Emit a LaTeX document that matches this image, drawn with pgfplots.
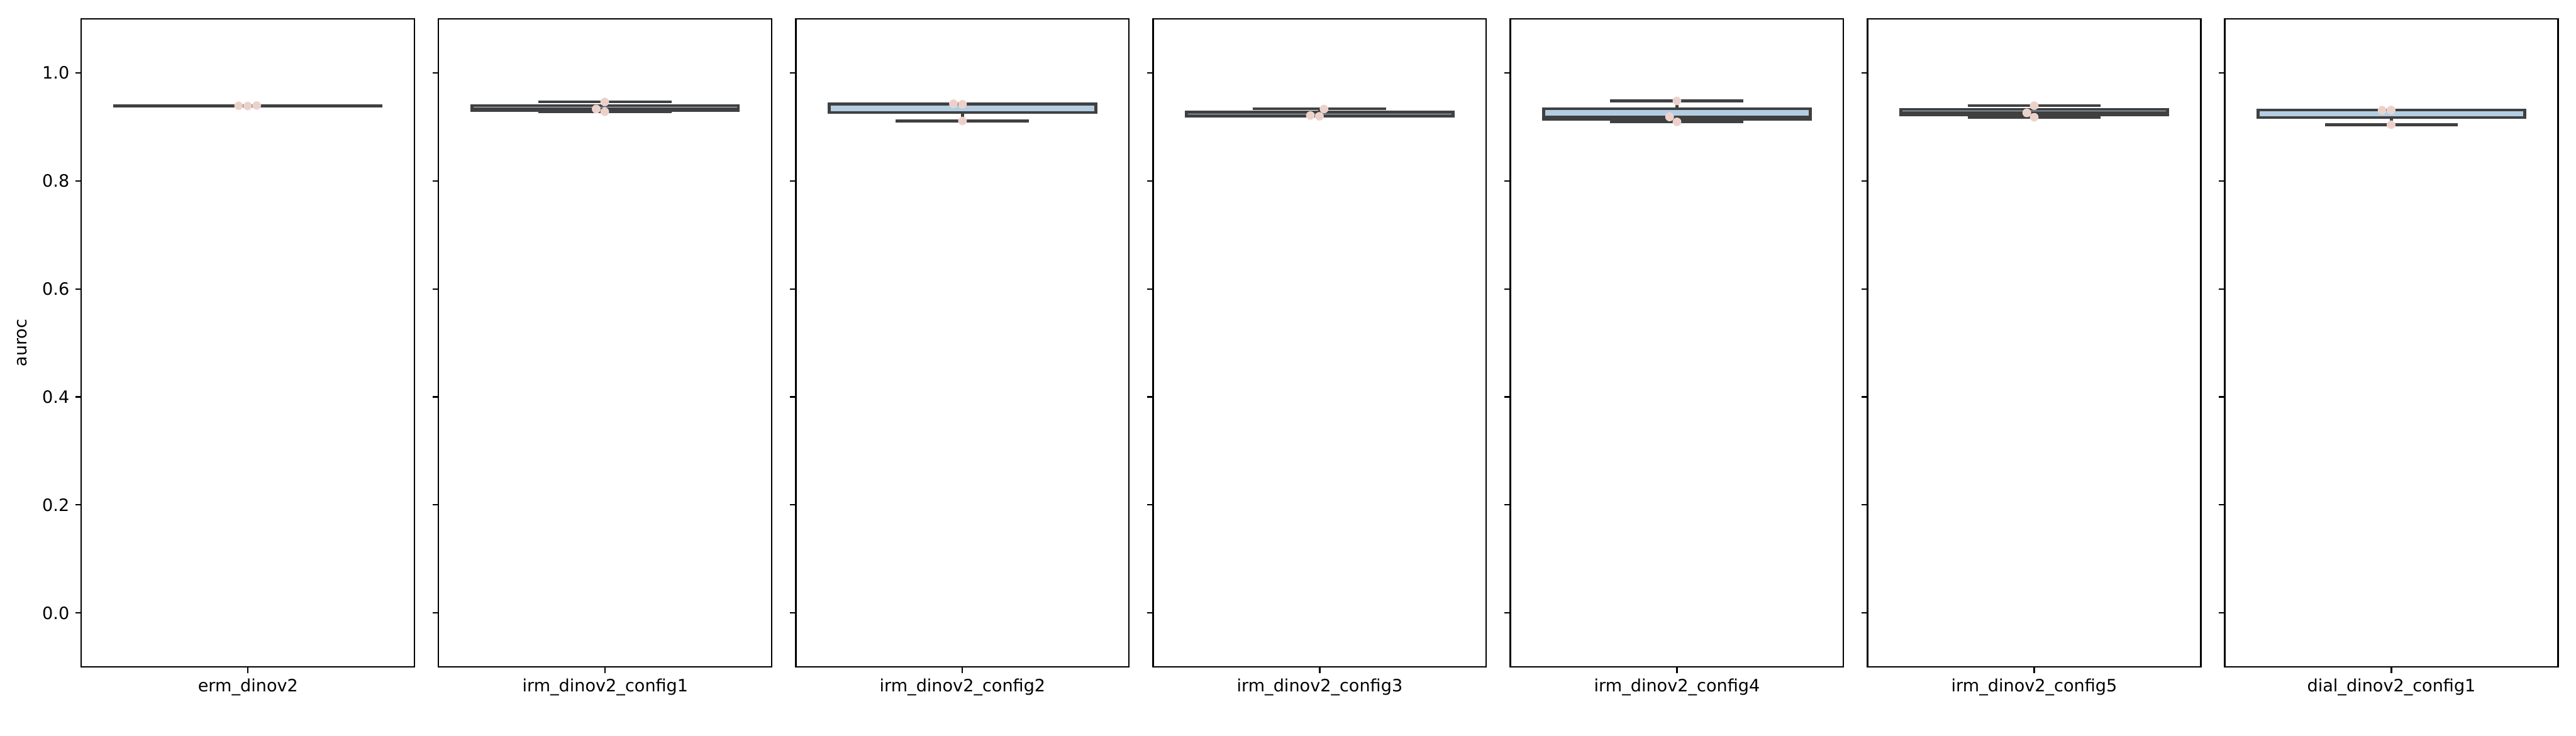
\documentclass[border=0pt]{standalone}
\usepackage{fontspec}
\setmainfont{DejaVu Sans}
\usepackage{pgfplots}
\pgfplotsset{compat=1.18}
\usepgfplotslibrary{statistics}
\definecolor{boxblue}{RGB}{179,205,227}
\definecolor{boxgray}{RGB}{64,64,64}
\definecolor{ptcol}{RGB}{236,208,202}
\pgfplotsset{
  panel/.style={
    anchor=south west, scale only axis,
    width=195.6pt, height=380.6pt,
    xmin=-0.5, xmax=0.5, ymin=-0.1, ymax=1.1,
    xtick={0}, xtick pos=bottom, ytick pos=left,
    ytick={0,0.2,0.4,0.6,0.8,1.0},
    tick align=outside,
    major tick length=3.5pt,
    every tick/.style={black, line width=0.8pt},
    axis line style={black, line width=0.8pt},
    tick label style={font=\fontsize{10}{12}\selectfont},
    label style={font=\fontsize{10}{12}\selectfont},
    /pgf/number format/assume math mode=true,
    /pgf/number format/fixed, /pgf/number format/fixed zerofill,
    /pgf/number format/precision=1,
    boxplot/draw direction=y,
    clip=false,
  },
  bx/.style={boxplot prepared={#1, draw position=0, box extend=0.8, whisker extend=0.4},
    draw=boxgray, fill=boxblue, line width=1.6pt, line join=miter, solid, mark=none},
  pts/.style={only marks, mark=*, mark size=2.4pt, mark options={fill=ptcol, draw=ptcol!70!white, line width=0.3pt}},
}
\begin{document}
\begin{tikzpicture}
\useasboundingbox (0,0) rectangle (1512pt,432pt);
% panel 1
\begin{axis}[panel, at={(47.76pt,40.3pt)}, xticklabels={erm\_dinov2}, ylabel={auroc}, ylabel style={at={(axis description cs:-0.146,0.5)}, anchor=south}]
\addplot+[bx={lower whisker=0.9387, lower quartile=0.93895, median=0.9392, upper quartile=0.93945, upper whisker=0.9397}] coordinates {};
\addplot[pts] coordinates {(-0.028,0.9392) (-0.001,0.9387) (0.026,0.9397)};
\end{axis}
% panel 2
\begin{axis}[panel, at={(257.44pt,40.3pt)}, xticklabels={irm\_dinov2\_config1}, yticklabels={}]
\addplot+[bx={lower whisker=0.9279, lower quartile=0.9305, median=0.9331, upper quartile=0.9397, upper whisker=0.9463}] coordinates {};
\addplot[pts] coordinates {(-0.0015,0.9463) (-0.027,0.9331) (-0.0015,0.9279)};
\end{axis}
% panel 3
\begin{axis}[panel, at={(467.12pt,40.3pt)}, xticklabels={irm\_dinov2\_config2}, yticklabels={}]
\addplot+[bx={lower whisker=0.9109, lower quartile=0.92655, median=0.9422, upper quartile=0.9426, upper whisker=0.9430}] coordinates {};
\addplot[pts] coordinates {(-0.027,0.9430) (0,0.9422) (0,0.9109)};
\end{axis}
% panel 4
\begin{axis}[panel, at={(676.80pt,40.3pt)}, xticklabels={irm\_dinov2\_config3}, yticklabels={}]
\addplot+[bx={lower whisker=0.9195, lower quartile=0.92025, median=0.9210, upper quartile=0.92715, upper whisker=0.9333}] coordinates {};
\addplot[pts] coordinates {(0.013,0.9333) (-0.028,0.9210) (-0.001,0.9195)};
\end{axis}
% panel 5
\begin{axis}[panel, at={(886.48pt,40.3pt)}, xticklabels={irm\_dinov2\_config4}, yticklabels={}]
\addplot+[bx={lower whisker=0.9092, lower quartile=0.91385, median=0.9185, upper quartile=0.9334, upper whisker=0.9483}] coordinates {};
\addplot[pts] coordinates {(0,0.9483) (-0.022,0.9185) (0,0.9092)};
\end{axis}
% panel 6
\begin{axis}[panel, at={(1096.16pt,40.3pt)}, xticklabels={irm\_dinov2\_config5}, yticklabels={}]
\addplot+[bx={lower whisker=0.9177, lower quartile=0.92185, median=0.9260, upper quartile=0.9327, upper whisker=0.9394}] coordinates {};
\addplot[pts] coordinates {(0,0.9394) (-0.022,0.9260) (0,0.9177)};
\end{axis}
% panel 7
\begin{axis}[panel, at={(1305.84pt,40.3pt)}, xticklabels={dial\_dinov2\_config1}, yticklabels={}]
\addplot+[bx={lower whisker=0.9039, lower quartile=0.9175, median=0.9311, upper quartile=0.9313, upper whisker=0.9315}] coordinates {};
\addplot[pts] coordinates {(-0.028,0.9311) (-0.001,0.9315) (-0.001,0.9039)};
\end{axis}
\end{tikzpicture}
\end{document}
